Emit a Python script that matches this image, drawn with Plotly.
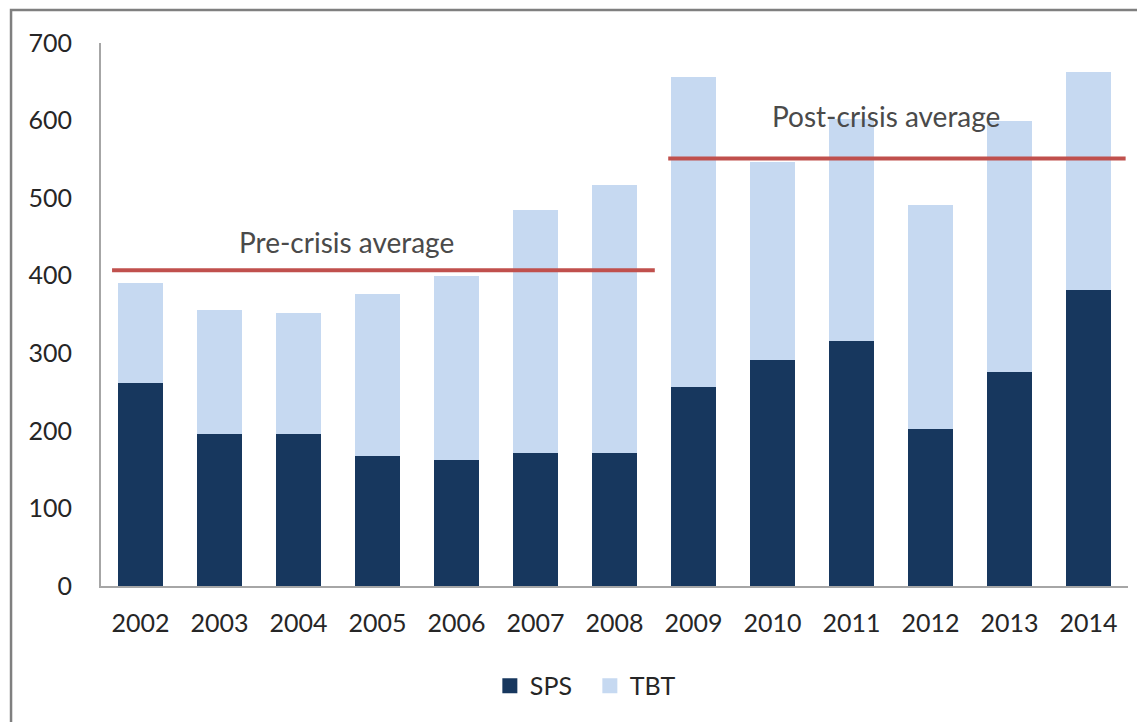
import plotly.graph_objects as go

years = [2002, 2003, 2004, 2005, 2006, 2007, 2008, 2009, 2010, 2011, 2012, 2013, 2014]
sps = [262, 196, 196, 167, 162, 172, 171, 256, 291, 316, 202, 276, 382]
total = [391, 356, 352, 376, 400, 485, 517, 656, 547, 602, 491, 599, 663]
tbt = [t - s for t, s in zip(total, sps)]
pre_avg = 407
post_avg = 551
y_ticks = [0, 100, 200, 300, 400, 500, 600, 700]

FONT = "Lato"
TXT = "#262626"
SPS_C = "#17375E"
TBT_C = "#C6D9F1"

fig = go.Figure()
fig.add_trace(go.Bar(x=years, y=sps, name="SPS", marker=dict(color=SPS_C, line=dict(width=0)),
                     showlegend=False))
fig.add_trace(go.Bar(x=years, y=tbt, name="TBT", marker=dict(color=TBT_C, line=dict(width=0)),
                     showlegend=False))
# legend entries with larger square swatches
fig.add_trace(go.Scatter(x=[None], y=[None], mode="markers", name="SPS",
                         marker=dict(symbol="square", size=15, color=SPS_C)))
fig.add_trace(go.Scatter(x=[None], y=[None], mode="markers", name="TBT",
                         marker=dict(symbol="square", size=15, color=TBT_C)))

# average lines
fig.add_shape(type="line", xref="x", yref="y", x0=2001.64, x1=2008.51, y0=pre_avg, y1=pre_avg,
              line=dict(color="#C0504D", width=4))
fig.add_shape(type="line", xref="x", yref="y", x0=2008.68, x1=2014.47, y0=post_avg, y1=post_avg,
              line=dict(color="#C0504D", width=4))

fig.add_annotation(x=2004.61, y=443, xref="x", yref="y", text="Pre-crisis average", showarrow=False,
                   font=dict(family=FONT, size=28, color="#4A4A4A"))
fig.add_annotation(x=2011.44, y=606, xref="x", yref="y", text="Post-crisis average", showarrow=False,
                   font=dict(family=FONT, size=28, color="#4A4A4A"))

# outer frame
fig.add_shape(type="rect", xref="paper", yref="paper", x0=-0.0876, x1=1.05, y0=-0.3, y1=1.0608,
              line=dict(color="#7F7F7F", width=2.5), fillcolor="rgba(0,0,0,0)", layer="below")

fig.update_layout(
    barmode="stack",
    bargap=0.42,
    width=1137, height=714,
    margin=dict(l=93, r=17, t=35, b=136),
    paper_bgcolor="white", plot_bgcolor="white",
    font=dict(family=FONT, size=25, color=TXT),
    showlegend=True,
    legend=dict(orientation="h", x=0.476, xanchor="center", y=-0.184, yanchor="middle",
                font=dict(family=FONT, size=25, color=TXT), itemwidth=30, traceorder="normal",
                entrywidth=55, entrywidthmode="pixels"),
    xaxis=dict(range=[2001.5, 2014.5], tickvals=years, ticktext=[str(y) for y in years],
               showgrid=False, zeroline=False, showline=True, linecolor="#A6A6A6", linewidth=2,
               ticks="", ticklabelstandoff=14, tickfont=dict(family=FONT, size=25, color=TXT)),
    yaxis=dict(range=[0, 700], tickvals=y_ticks, showgrid=False, zeroline=False, showline=True,
               linecolor="#A6A6A6", linewidth=2, ticks="", ticklabelstandoff=22,
               tickfont=dict(family=FONT, size=25, color=TXT)),
)

fig.write_html("out.html")
